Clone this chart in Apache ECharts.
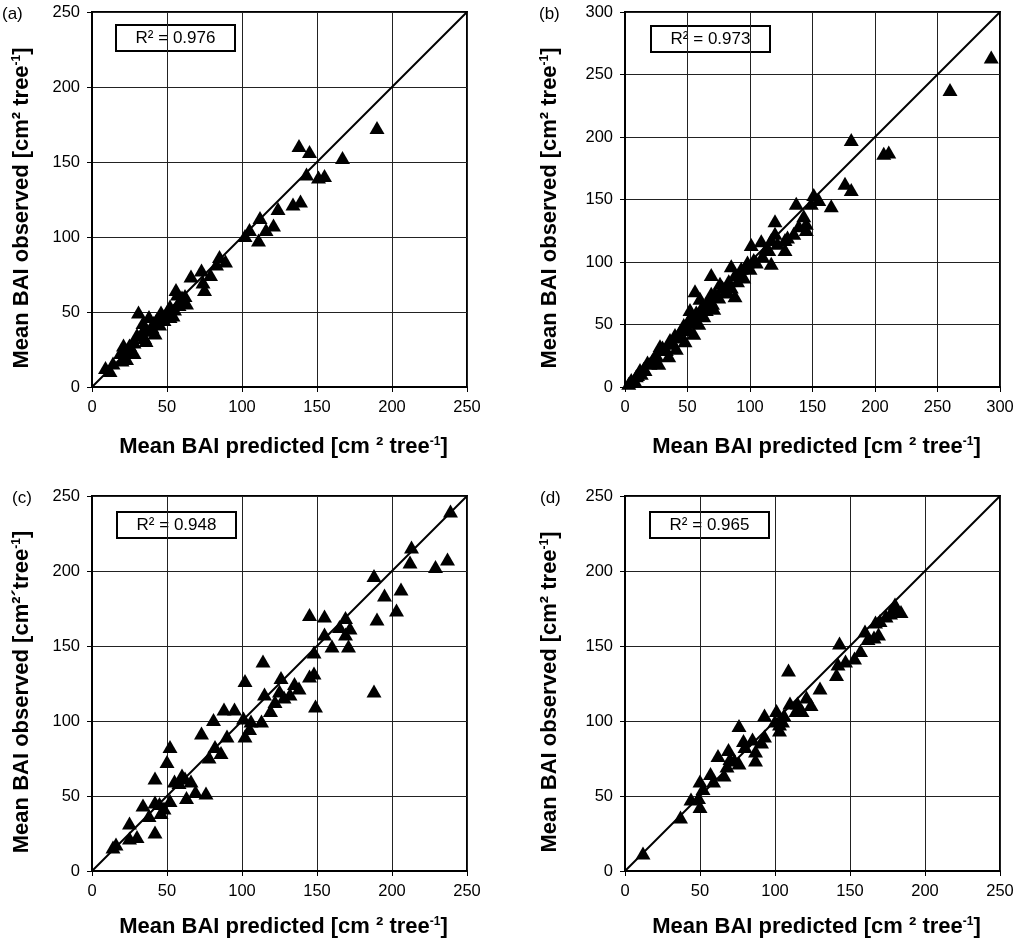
<!DOCTYPE html>
<html>
<head>
<meta charset="utf-8">
<script src="https://cdn.jsdelivr.net/npm/echarts@6/dist/echarts.min.js"></script>
<style>
  html, body { margin: 0; padding: 0; background: #fff; }
  #chart { width: 1019px; height: 945px; }
</style>
</head>
<body>
<div id="chart"></div>
<script>
// panel data: [predicted, observed]
const panelNames = ['(a)', '(b)', '(c)', '(d)']
const r2Labels = ['R² = 0.976', 'R² = 0.973', 'R² = 0.948', 'R² = 0.965']
const axisMax = [250, 300, 250, 250]
const tickStep = 50

const pointsA = [
  [190, 173], [138, 161], [145, 157], [167, 153], [143, 142], [151, 140], [155, 141],
  [124, 119], [134, 122], [139, 124], [112, 113], [121, 108], [116, 105], [105, 105],
  [111, 98], [102, 101], [85, 87], [89, 84], [83, 82], [73, 78], [66, 74], [79, 75],
  [75, 65], [74, 70], [56, 65], [62, 61], [58, 57], [52, 54], [63, 56], [46, 50],
  [54, 48], [31, 50], [38, 47], [43, 45], [34, 43], [39, 38], [33, 36], [42, 36],
  [36, 31], [21, 28], [25, 26], [19, 23], [28, 23], [23, 19], [20, 18], [14, 16],
  [9, 13], [12, 11], [30, 35], [35, 38], [45, 42], [48, 45], [50, 50], [55, 52],
  [58, 55], [60, 60], [40, 40], [28, 30], [25, 28], [22, 24], [52, 47], [57, 62],
  [60, 58], [47, 48], [35, 33], [41, 43]
]

const pointsB = [
  [293, 264], [260, 238], [181, 198], [207, 187], [211, 188], [176, 163], [181, 158],
  [165, 145], [151, 154], [155, 150], [137, 147], [149, 147], [120, 133], [143, 137],
  [145, 131], [139, 129], [145, 126], [135, 123], [120, 123], [128, 118], [117, 118],
  [128, 110], [101, 114], [109, 117], [113, 111], [117, 99], [103, 102], [97, 97],
  [85, 97], [69, 90], [92, 90], [88, 73], [76, 83], [81, 78], [56, 77], [60, 71],
  [69, 75], [71, 63], [65, 67], [52, 62], [63, 57], [59, 51], [51, 54], [49, 46],
  [55, 43], [44, 41], [48, 37], [37, 35], [41, 31], [32, 30], [28, 33], [35, 25],
  [24, 25], [27, 19], [20, 19], [16, 14], [13, 11], [9, 9], [5, 6], [3, 3], [8, 5],
  [10, 10], [12, 14], [15, 15], [18, 20], [22, 22], [25, 26], [30, 32], [33, 30],
  [36, 38], [38, 36], [40, 42], [43, 40], [45, 46], [47, 50], [50, 48], [52, 55],
  [55, 52], [57, 60], [60, 58], [62, 65], [65, 62], [68, 70], [70, 67], [72, 75],
  [75, 72], [78, 80], [80, 76], [83, 85], [85, 80], [88, 90], [90, 85], [93, 95],
  [95, 88], [98, 100], [100, 95], [105, 100], [110, 105], [115, 110], [122, 115],
  [130, 120]
]

const pointsC = [
  [239, 240], [237, 208], [229, 203], [213, 216], [212, 206], [188, 197], [195, 184],
  [206, 188], [203, 174], [190, 168], [188, 120], [145, 171], [155, 170], [169, 169],
  [172, 162], [155, 158], [169, 158], [160, 150], [171, 150], [148, 146], [114, 140],
  [126, 129], [148, 132], [145, 130], [138, 122], [132, 118], [128, 116], [122, 113],
  [115, 118], [119, 107], [149, 110], [102, 127], [88, 108], [95, 108], [81, 101],
  [101, 102], [106, 100], [113, 100], [102, 90], [90, 90], [73, 92], [82, 83],
  [86, 79], [78, 76], [52, 83], [50, 73], [42, 62], [60, 64], [66, 60], [58, 59],
  [69, 53], [76, 52], [63, 49], [34, 44], [42, 46], [52, 47], [46, 39], [38, 37],
  [25, 32], [42, 26], [30, 23], [25, 22], [16, 18], [14, 16], [55, 60], [62, 62],
  [45, 45], [48, 42], [105, 95], [125, 120], [135, 125], [165, 163]
]

const pointsD = [
  [12, 12], [37, 36], [44, 48], [50, 60], [50, 43], [49, 49], [57, 65], [59, 60],
  [62, 77], [66, 64], [68, 70], [69, 81], [76, 97], [73, 74], [76, 72], [79, 87],
  [80, 83], [87, 80], [87, 74], [91, 86], [93, 90], [93, 104], [101, 107], [103, 94],
  [103, 98], [106, 104], [109, 134], [110, 112], [114, 107], [118, 107], [121, 116],
  [124, 111], [130, 122], [141, 131], [143, 152], [142, 138], [147, 140], [153, 142],
  [157, 147], [166, 156], [169, 158], [167, 166], [170, 167], [174, 170], [181, 175],
  [184, 173], [177, 172], [52, 55], [70, 75], [100, 100], [105, 100], [160, 160],
  [162, 155], [180, 178], [115, 112], [85, 88]
]

const allPoints = [pointsA, pointsB, pointsC, pointsD]

// layout
const grids = [
  { left: 92, top: 12, width: 375, height: 375 },
  { left: 625, top: 12, width: 375, height: 375 },
  { left: 92, top: 496, width: 375, height: 375 },
  { left: 625, top: 496, width: 375, height: 375 },
]
const yNameGap = [59, 64, 59, 64]
const xNameGap = [49, 49, 45, 45]
const yNames = [
  'Mean BAI observed [cm² tree{sup|-1}]',
  'Mean BAI observed [cm² tree{sup|-1}]',
  'Mean BAI observed [cm²´tree{sup|-1}]',
  'Mean BAI observed [cm² tree{sup|-1}]',
]
const xName = 'Mean BAI predicted [cm ² tree{sup|-1}]'

const FONT = 'Liberation Sans, Arial, sans-serif'

function nameStyle(pad) {
  return {
    fontFamily: FONT,
    fontSize: 22,
    fontWeight: 'bold',
    color: '#000',
    padding: pad,
    rich: {
      sup: {
        fontFamily: FONT,
        fontSize: 12,
        fontWeight: 'bold',
        color: '#000',
        verticalAlign: 'top',
      },
    },
  }
}

function makeAxis(i, isX) {
  return {
    type: 'value',
    gridIndex: i,
    min: 0,
    max: axisMax[i],
    interval: tickStep,
    name: isX ? xName : yNames[i],
    nameLocation: 'middle',
    nameGap: isX ? xNameGap[i] : yNameGap[i],
    // small shift: titles sit a little off-centre in the original
    nameTextStyle: nameStyle(isX ? [0, 0, 0, 8] : [0, 17, 0, 0]),
    axisLine: { show: true, lineStyle: { color: '#000', width: 2 } },
    axisTick: { show: true, inside: false, length: 5, lineStyle: { color: '#000', width: 1 } },
    axisLabel: { fontFamily: FONT, fontSize: 16.5, color: '#000', margin: 12 },
    splitLine: { show: true, lineStyle: { color: '#222', width: 1 } },
  }
}

const xAxes = []
const yAxes = []
const series = []
const graphics = []

const labelPos = [[2, 6], [539, 6], [12, 490], [540, 490]]
const boxPos = [[115, 24], [650, 25], [116, 511], [649, 511]]

for (let i = 0; i < 4; i++) {
  xAxes.push(makeAxis(i, true))
  yAxes.push(makeAxis(i, false))
  series.push({
    type: 'line',
    xAxisIndex: i,
    yAxisIndex: i,
    data: [[0, 0], [axisMax[i], axisMax[i]]],
    symbol: 'none',
    silent: true,
    lineStyle: { color: '#000', width: 2 },
    z: 3,
  })
  series.push({
    type: 'scatter',
    xAxisIndex: i,
    yAxisIndex: i,
    data: allPoints[i],
    symbol: 'triangle',
    symbolSize: [15, 13],
    itemStyle: { color: '#000', opacity: 1 },
    z: 4,
  })
  graphics.push({
    type: 'text',
    left: labelPos[i][0],
    top: labelPos[i][1],
    style: { text: panelNames[i], fontSize: 17, fontFamily: FONT, fill: '#000' },
  })
  graphics.push({
    type: 'group',
    left: boxPos[i][0],
    top: boxPos[i][1],
    z: 100,
    children: [
      {
        type: 'rect',
        shape: { x: 0, y: 0, width: 119, height: 26 },
        style: { fill: 'transparent', stroke: '#000', lineWidth: 2 },
      },
      {
        type: 'text',
        x: 59.5,
        y: 13.5,
        style: {
          text: r2Labels[i],
          fontSize: 17,
          fontFamily: FONT,
          fill: '#000',
          align: 'center',
          verticalAlign: 'middle',
        },
      },
    ],
  })
}

const myChart = echarts.init(document.getElementById('chart'), null, { renderer: 'canvas' })
const option = {
  backgroundColor: '#fff',
  animation: false,
  grid: grids.map(g => Object.assign({
    show: true,
    borderColor: '#000',
    borderWidth: 2,
    backgroundColor: 'transparent',
    outerBoundsMode: 'none',
  }, g)),
  xAxis: xAxes,
  yAxis: yAxes,
  series: series,
  graphic: graphics,
}
myChart.setOption(option)
window.onresize = myChart.resize
</script>
</body>
</html>
